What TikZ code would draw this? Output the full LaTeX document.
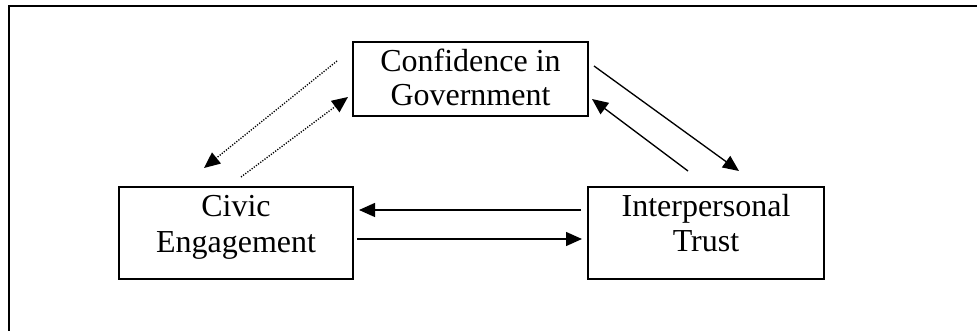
\documentclass[tikz,border=0pt]{standalone}
\usepackage{fontspec}
\setmainfont{Liberation Serif}
\usetikzlibrary{arrows.meta,calc}
\begin{document}
\begin{tikzpicture}[x=0.75pt,y=-0.75pt,
  box/.style={draw,line width=1.5pt,rectangle,inner sep=0pt,outer sep=0pt},
  lbl/.style={anchor=base,inner sep=0pt,font=\fontsize{24pt}{28pt}\selectfont},
  conn/.style={line width=1pt,-{Triangle[length=12pt,width=10.5pt]}},
  dconn/.style={line width=1pt,dash pattern=on 0.9pt off 1.1pt,-{Triangle[length=12pt,width=10.5pt]}},
  frame/.style={line width=0.9pt}]
\useasboundingbox (0,0) rectangle (977,331);
\draw[frame] (9,340) -- (9,6) -- (990,6);
\node[box,minimum width=176.25pt,minimum height=55.5pt] (gov) at (470.5,79) {};
\node[box,minimum width=175.5pt,minimum height=69pt] (civ) at (236,233) {};
\node[box,minimum width=177pt,minimum height=69pt] (trust) at (706,233) {};
\node[lbl] (gov1) at ($(gov.north)+(0,30)$) {Confidence in};
\node[lbl] (gov2) at ($(gov.north)+(0,64)$) {Government};
\node[lbl] (civ1) at ($(civ.north)+(0,30)$) {Civic};
\node[lbl] (civ2) at ($(civ.north)+(0,65.5)$) {Engagement};
\node[lbl] (trust1) at ($(trust.north)+(0,29.5)$) {Interpersonal};
\node[lbl] (trust2) at ($(trust.north)+(0,65)$) {Trust};
% horizontal
\draw[conn] ($(trust.west)+(-7,-23)$) -- ($(civ.east)+(6,-23)$);
\draw[conn] ($(civ.east)+(4,6)$) -- ($(trust.west)+(-6,6)$);
% right diagonal
\draw[conn] ($(gov.east)+(6,-13)$) -- ($(trust.north)+(33,-16)$);
\draw[conn] ($(trust.north)+(-18,-16)$) -- ($(gov.east)+(4,20)$);
% left dotted
\draw[dconn] ($(gov.west)+(-16,-18)$) -- ($(civ.north)+(-32,-19)$);
\draw[dconn] ($(civ.north)+(5,-10)$) -- ($(gov.west)+(-5,18)$);
\end{tikzpicture}
\end{document}
